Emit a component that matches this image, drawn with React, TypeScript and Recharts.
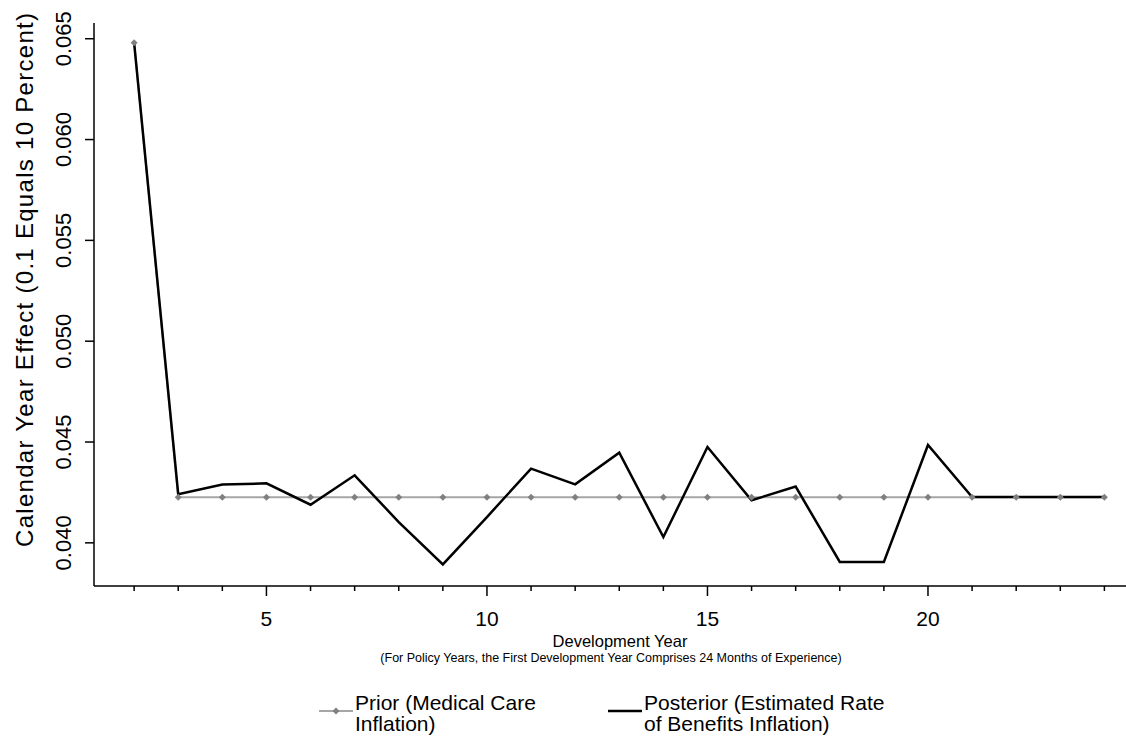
import React from 'react';
import { ComposedChart, Line, Scatter, XAxis, YAxis, Legend, Label } from 'recharts';

// development years (x)
const years = [2, 3, 4, 5, 6, 7, 8, 9, 10, 11, 12, 13, 14, 15, 16, 17, 18, 19, 20, 21, 22, 23, 24];

// prior: medical care inflation
const priorRate = [
  0.0648, 0.04226, 0.04226, 0.04226, 0.04226, 0.04226, 0.04226, 0.04226, 0.04226, 0.04226, 0.04226, 0.04226,
  0.04226, 0.04226, 0.04226, 0.04226, 0.04226, 0.04226, 0.04226, 0.04226, 0.04226, 0.04226, 0.04226,
];

// posterior: estimated rate of benefits inflation
const posteriorRate = [
  0.0648, 0.04241, 0.04289, 0.04295, 0.04189, 0.04335, 0.04103, 0.03893, 0.04128, 0.04368, 0.0429, 0.04447,
  0.04029, 0.04475, 0.04211, 0.04279, 0.03905, 0.03905, 0.04485, 0.04227, 0.04227, 0.04227, 0.04227,
];

const xTicks = [2, 3, 4, 5, 6, 7, 8, 9, 10, 11, 12, 13, 14, 15, 16, 17, 18, 19, 20, 21, 22, 23, 24];
const yTicks = [0.04, 0.045, 0.05, 0.055, 0.06, 0.065];

const yTitle = 'Calendar Year Effect (0.1 Equals 10 Percent)';
const xTitle = 'Development Year';
const xSubtitle = '(For Policy Years, the First Development Year Comprises 24 Months of Experience)';
const priorLabel = ['Prior (Medical Care', 'Inflation)'];
const posteriorLabel = ['Posterior (Estimated Rate', 'of Benefits Inflation)'];

const FONT = '"Liberation Sans", Arial, sans-serif';

const data = years.map((year, i) => ({
  year,
  prior: priorRate[i],
  posterior: posteriorRate[i],
}));

const XTick = (props: any) => {
  const { x, y, payload } = props;
  const major = payload.value % 5 === 0;
  return (
    <g>
      <line x1={x} x2={x} y1={y} y2={y + (major ? 10 : 5)} stroke="#000" strokeWidth={1.5} />
      {major && (
        <text x={x} y={y + 40} textAnchor="middle" fontSize={21} fontFamily={FONT} fill="#000">
          {payload.value}
        </text>
      )}
    </g>
  );
};

const YTick = (props: any) => {
  const { x, y, payload } = props;
  const tx = x - 23;
  return (
    <g>
      <line x1={x - 9} x2={x} y1={y} y2={y} stroke="#000" strokeWidth={1.5} />
      <text
        x={tx}
        y={y}
        transform={`rotate(-90, ${tx}, ${y})`}
        textAnchor="middle"
        fontSize={22}
        fontFamily={FONT}
        fill="#000"
      >
        {payload.value.toFixed(3)}
      </text>
    </g>
  );
};

const Diamond = (props: any) => {
  const { cx, cy } = props;
  if (cx == null || cy == null) return null;
  const r = 3.5;
  return <path d={`M${cx},${cy - r}L${cx + r},${cy}L${cx},${cy + r}L${cx - r},${cy}Z`} fill="#808080" />;
};

const YTitle = () => (
  <text
    x={33}
    y={280}
    transform="rotate(-90, 33, 280)"
    textAnchor="middle"
    fontSize={24}
    textLength={534}
    lengthAdjust="spacing"
    fontFamily={FONT}
    fill="#000"
  >
    {yTitle}
  </text>
);

const XTitle = () => (
  <g fontFamily={FONT} fill="#000">
    <text x={620} y={647} textAnchor="middle" fontSize={16.5}>
      {xTitle}
    </text>
    <text x={611} y={662} textAnchor="middle" fontSize={12.5}>
      {xSubtitle}
    </text>
  </g>
);

const renderLegend = () => (
  <svg width={1126} height={59} style={{ display: 'block' }}>
    <g fontFamily={FONT} fontSize={21} fill="#000">
      <line x1={319} x2={353} y1={31} y2={31} stroke="#a6a6a6" strokeWidth={2} />
      <Diamond cx={336} cy={31} />
      <text x={355} y={30}>{priorLabel[0]}</text>
      <text x={355} y={51}>{priorLabel[1]}</text>
      <line x1={608} x2={642} y1={31} y2={31} stroke="#000" strokeWidth={2.5} />
      <text x={644} y={30}>{posteriorLabel[0]}</text>
      <text x={644} y={51}>{posteriorLabel[1]}</text>
    </g>
  </svg>
);

export default function App() {
  return (
    <div style={{ position: 'absolute', left: 0, top: 0, width: 1126, height: 739, background: '#fff', fontFamily: FONT }}>
      <ComposedChart width={1126} height={739} data={data} margin={{ top: 23, right: 0, bottom: 93, left: 34 }}>
        <XAxis
          dataKey="year"
          type="number"
          domain={[1.09, 24.49]}
          allowDataOverflow
          ticks={xTicks}
          interval={0}
          tick={<XTick />}
          tickLine={false}
          tickSize={0}
          tickMargin={0}
          height={60}
          stroke="#000"
          strokeWidth={1.5}
        >
          <Label content={<XTitle />} />
        </XAxis>
        <XAxis
          xAxisId="top"
          orientation="top"
          type="number"
          domain={[1.09, 24.49]}
          allowDataOverflow
          tick={false}
          tickLine={false}
          height={0}
          stroke="#222"
          strokeWidth={1.5}
        />
        <YAxis
          type="number"
          domain={[0.03786, 0.06578]}
          allowDataOverflow
          ticks={yTicks}
          interval={0}
          tick={<YTick />}
          tickLine={false}
          tickSize={0}
          tickMargin={0}
          width={60}
          stroke="#000"
          strokeWidth={1.5}
        >
          <Label content={<YTitle />} />
        </YAxis>
        <Line
          dataKey="prior"
          type="linear"
          stroke="#a6a6a6"
          strokeWidth={2}
          dot={false}
          activeDot={false}
          isAnimationActive={false}
        />
        <Line
          dataKey="posterior"
          type="linear"
          stroke="#000"
          strokeWidth={2.5}
          dot={false}
          activeDot={false}
          isAnimationActive={false}
        />
        <Scatter dataKey="prior" shape={<Diamond />} isAnimationActive={false} />
        <Legend
          layout="horizontal"
          verticalAlign="middle"
          align="center"
          content={renderLegend}
          wrapperStyle={{ left: 0, top: 680, width: 1126, height: 59 }}
        />
      </ComposedChart>
    </div>
  );
}
